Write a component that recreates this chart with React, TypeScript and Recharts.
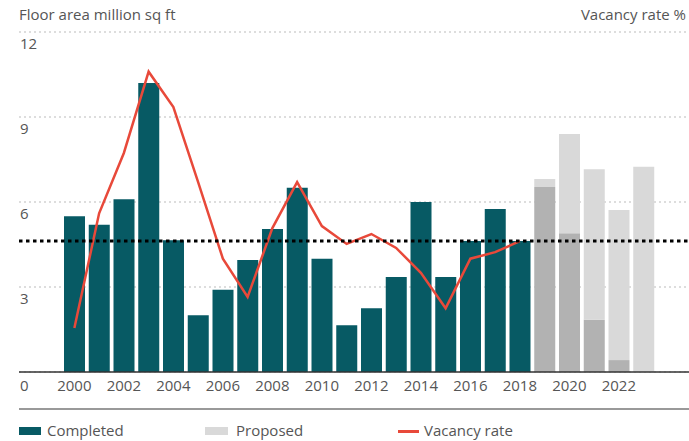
import React from 'react';
import { ComposedChart, Bar, Line, XAxis, YAxis, CartesianGrid, ReferenceLine } from 'recharts';

const years = ['2000', '2001', '2002', '2003', '2004', '2005', '2006', '2007', '2008', '2009', '2010', '2011',
  '2012', '2013', '2014', '2015', '2016', '2017', '2018', '2019', '2020', '2021', '2022', '2023'];
const completed = [5.5, 5.2, 6.1, 10.2, 4.65, 2.0, 2.9, 3.95, 5.05, 6.5, 4.0, 1.65,
  2.25, 3.35, 6.0, 3.35, 4.62, 5.75, 4.62, null, null, null, null, null];
const underway = [null, null, null, null, null, null, null, null, null, null, null, null,
  null, null, null, null, null, null, null, 6.53, 4.9, 1.84, 0.42, null];
const proposed = [null, null, null, null, null, null, null, null, null, null, null, null,
  null, null, null, null, null, null, null, 6.81, 8.4, 7.16, 5.72, 7.24];
const vacancy = [1.55, 5.6, 7.73, 10.6, 9.35, 6.7, 4.0, 2.65, 5.08, 6.7, 5.15, 4.52,
  4.87, 4.38, 3.5, 2.25, 4.0, 4.23, 4.62, null, null, null, null, null];
const avgVacancy = 4.62;
const yTicks = [0, 3, 6, 9, 12];

const TEAL = '#075a64';
const DARK_GREY = '#b2b2b2';
const LIGHT_GREY = '#d9d9d9';
const RED = '#e8493a';
const TEXT = '#555';
const FONT = '"Open Sans", sans-serif';

const data = years.map((year, i) => ({
  year,
  completed: completed[i],
  underway: underway[i],
  proposedRest: proposed[i] == null ? null : proposed[i]! - (underway[i] ?? 0),
  vacancy: vacancy[i],
}));

// y labels sit just under their gridline, inside the plot
const LeftTick = (props: any) => (
  <text x={20} y={props.y + (props.payload.value === 0 ? 19 : 17)} fill={TEXT} fontSize={15}
    fontFamily={FONT} textAnchor="start">
    {props.payload.value}
  </text>
);

const RightTick = (props: any) => (
  <text x={686} y={props.y + (props.payload.value === 0 ? 19 : 17)} fill={TEXT} fontSize={15}
    fontFamily={FONT} textAnchor="end">
    {props.payload.value}
  </text>
);

const YearTick = (props: any) => (
  <text x={props.x} y={391} fill={TEXT} fontSize={15} fontFamily={FONT} textAnchor="middle">
    {props.payload.value}
  </text>
);

const ChartLegend = () => (
  <div style={{ position: 'absolute', left: 0, top: 420, width: 689, height: 21, fontFamily: FONT, fontSize: 15, color: TEXT }}>
    <div style={{ position: 'absolute', left: 19, top: 7, width: 22, height: 8, background: TEAL }} />
    <span style={{ position: 'absolute', left: 47, top: 0 }}>Completed</span>
    <div style={{ position: 'absolute', left: 205, top: 7, width: 23, height: 8, background: LIGHT_GREY }} />
    <span style={{ position: 'absolute', left: 236, top: 0 }}>Proposed</span>
    <div style={{ position: 'absolute', left: 398, top: 10, width: 21, height: 3, background: RED }} />
    <span style={{ position: 'absolute', left: 424, top: 0 }}>Vacancy rate</span>
  </div>
);

export default function App() {
  return (
    <div style={{ position: 'absolute', left: 0, top: 0, width: 689, height: 441, background: '#fff', fontFamily: FONT }}>
      <div style={{ position: 'absolute', left: 19, top: 4, fontSize: 15, color: TEXT }}>Floor area million sq ft</div>
      <div style={{ position: 'absolute', right: 3, top: 4, fontSize: 15, color: TEXT }}>Vacancy rate %</div>
      <div style={{ position: 'absolute', left: 19, top: 408, width: 670, height: 2, background: '#999' }} />
      <ComposedChart
        width={689}
        height={441}
        data={data}
        margin={{ top: 32, right: 0, bottom: 39, left: 19 }}
        barCategoryGap={0}
      >
        <CartesianGrid vertical={false} stroke="#bbb" strokeDasharray="2 3" yAxisId="left" />
        <XAxis
          dataKey="year"
          interval={1}
          height={30}
          padding={{ left: 43, right: 33 }}
          tickLine={false}
          axisLine={{ stroke: '#333', strokeWidth: 1.5 }}
          tick={<YearTick />}
        />
        <YAxis yAxisId="left" orientation="left" mirror domain={[0, 12]} ticks={yTicks}
          axisLine={false} tickLine={false} tick={<LeftTick />} />
        <YAxis yAxisId="right" orientation="right" mirror domain={[0, 12]} ticks={yTicks}
          axisLine={false} tickLine={false} tick={<RightTick />} />
        <Bar yAxisId="left" dataKey="completed" stackId="a" fill={TEAL} barSize={21} isAnimationActive={false} />
        <Bar yAxisId="left" dataKey="underway" stackId="a" fill={DARK_GREY} barSize={21} isAnimationActive={false} />
        <Bar yAxisId="left" dataKey="proposedRest" stackId="a" fill={LIGHT_GREY} barSize={21} isAnimationActive={false} />
        <Line yAxisId="left" type="linear" dataKey="vacancy" stroke={RED} strokeWidth={2.5} dot={false}
          activeDot={false} isAnimationActive={false} />
        <ReferenceLine yAxisId="left" y={avgVacancy} stroke="#000" strokeWidth={3} strokeDasharray="3.5 3.5" />
      </ComposedChart>
      <ChartLegend />
    </div>
  );
}
